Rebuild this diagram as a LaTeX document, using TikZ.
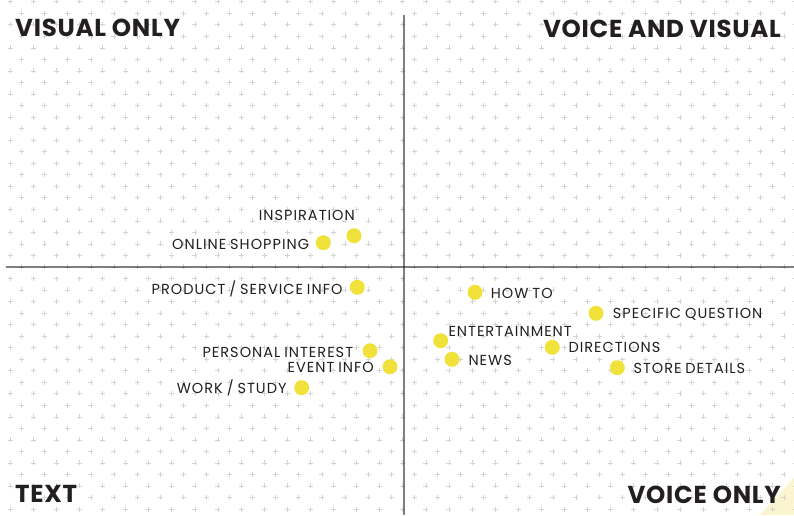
\documentclass[tikz,border=0pt]{standalone}
\usepackage{fontspec}
\setmainfont{Poppins}
\newfontfamily\lblfont{Poppins}[LetterSpace=7,WordSpace=0.8]
\newfontfamily\ttlfont{Poppins}[LetterSpace=3]
\definecolor{dotyellow}{HTML}{F0E23A}
\definecolor{triyellow}{HTML}{FAF5CF}
\definecolor{inkdark}{HTML}{231F20}
\definecolor{plusgray}{HTML}{D4D4D4}
\tikzset{
  gridplus/.style={draw=plusgray, line width=0.55pt},
  axisline/.style={draw=black, draw opacity=0.5, line width=2.2pt},
  dot/.style={circle, fill=dotyellow, minimum size=15pt, inner sep=0pt},
  lbl/.style={inner sep=0pt, text=inkdark, font=\lblfont\fontsize{14.5}{14.5}\selectfont},
  ttl/.style={inner sep=0pt, text=inkdark, font=\ttlfont\fontsize{24.5}{24.5}\selectfont\bfseries},
}
\begin{document}
\begin{tikzpicture}[x=1pt,y=-1pt]
\useasboundingbox (0,0) rectangle (794,515);
\fill[white] (0,0) rectangle (794,515);
\fill[triyellow] (794,478) -- (794,515) -- (760,515) -- cycle;
\foreach \m in {0,...,44} {
  \pgfmathsetmacro\yy{1.7+\m*11.53}
  \pgfmathsetmacro\xo{mod(\m,2)==0 ? 10 : 21.55}
  \foreach \k in {0,...,34} {
    \pgfmathsetmacro\xx{\xo+\k*23.1}
    \draw[gridplus] (\xx,\yy) ++(-2.5,0) -- ++(5,0) ++(-2.5,-2.5) -- ++(0,5);
  }
}
\draw[axisline] (404,15) -- (404,515);
\draw[axisline] (6,267) -- (794,267);
% titles
\node[ttl, anchor=base west] (tvisual) at (15,36.7) {VISUAL ONLY};
\node[ttl, anchor=base east] (tboth) at (781,37) {VOICE AND VISUAL};
\node[ttl, anchor=base west] (ttext) at (15,502) {TEXT};
\node[ttl, anchor=base east] (tvoice) at (781,503) {VOICE ONLY};
% dots
\node[dot] (dinsp) at (354,235.7) {};
\node[dot] (dshop) at (323.3,242.7) {};
\node[dot] (dprod) at (357.3,287.3) {};
\node[dot] (dhow) at (475,292.3) {};
\node[dot] (dspec) at (596,313.3) {};
\node[dot] (dent) at (440.7,340.7) {};
\node[dot] (dnews) at (452,359.3) {};
\node[dot] (ddir) at (552.3,347.3) {};
\node[dot] (dstore) at (617.3,367.7) {};
\node[dot] (dpers) at (370,350.7) {};
\node[dot] (devent) at (390,366.7) {};
\node[dot] (dwork) at (301.7,387.7) {};
% labels
\node[lbl, anchor=base east] (linsp) at (355,220.7) {INSPIRATION};
\node[lbl, anchor=base east] (lshop) at (309.3,249.3) {ONLINE SHOPPING};
\node[lbl, anchor=base east] (lprod) at (342.7,294) {PRODUCT / SERVICE INFO};
\node[lbl, anchor=base west] (lhow) at (490.7,298) {HOW TO};
\node[lbl, anchor=base west] (lspec) at (612.7,318.5) {SPECIFIC QUESTION};
\node[lbl, anchor=base west] (lent) at (448.3,336) {ENTERTAINMENT};
\node[lbl, anchor=base west] (lnews) at (468.3,365) {NEWS};
\node[lbl, anchor=base west] (ldir) at (568.3,352.5) {DIRECTIONS};
\node[lbl, anchor=base west] (lstore) at (633.3,373.3) {STORE DETAILS};
\node[lbl, anchor=base east] (lpers) at (353.3,357) {PERSONAL INTEREST};
\node[lbl, anchor=base east] (levent) at (374,372.3) {EVENT INFO};
\node[lbl, anchor=base east] (lwork) at (286.7,393.3) {WORK / STUDY};
\end{tikzpicture}
\end{document}
